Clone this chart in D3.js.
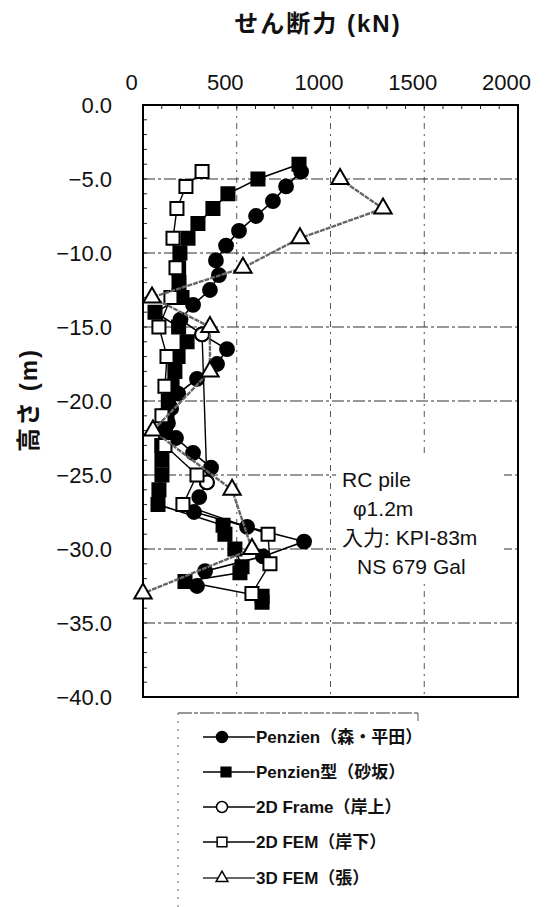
<!DOCTYPE html>
<html>
<head>
<meta charset="utf-8">
<script src="https://cdn.jsdelivr.net/npm/d3@7"></script>
<style>
  body { margin: 0; background: #fff; }
  svg { display: block; }
  text { font-family: "Liberation Sans", "Noto Sans CJK JP", sans-serif; fill: #111; }
</style>
</head>
<body>
<svg id="chart"></svg>
<script>
// せん断力 vs 深さ
let xTicks = [0, 500, 1000, 1500, 2000];
let yTicks = [0, -5, -10, -15, -20, -25, -30, -35, -40];

let seriesNames = ["Penzien（森・平田）", "Penzien型（砂坂）", "2D Frame（岸上）", "2D FEM（岸下）", "3D FEM（張）"];

let morihiraDepth = [-4.5, -5.5, -6.5, -7.5, -8.5, -9.5, -10.5, -11.5, -12.5, -13.5, -14.5, -15.5, -16.5, -17.5, -18.5, -19.5, -20.5, -21.5, -22.5, -23.5, -24.5, -25.5, -26.5, -27.5, -28.5, -29.5, -30.5, -31.5, -32.5];
let morihiraShear = [843, 763, 693, 603, 512, 443, 389, 405, 357, 267, 200, 315, 448, 395, 288, 187, 150, 133, 176, 267, 363, 341, 300, 272, 555, 859, 640, 331, 288];

let sakaDepth = [-4, -5, -6, -7, -8, -9, -10, -11, -12, -13, -14, -15, -16, -17, -18, -19, -20, -21, -22, -23, -24, -25, -26, -27, -28.4, -29, -30, -31.2, -31.6, -32.2, -33.2, -33.6];
let sakaShear = [832, 613, 453, 373, 293, 240, 197, 190, 192, 208, 64, 190, 235, 187, 170, 155, 135, 128, 120, 100, 101, 101, 85, 80, 427, 437, 490, 528, 517, 224, 635, 635];

let frameDepth = [-15.5, -25.5];
let frameShear = [315, 341];

let fem2Depth = [-4.5, -5.5, -7, -9, -11, -13, -15, -17, -19, -21, -23, -25, -27, -29, -31, -33];
let fem2Shear = [315, 229, 181, 160, 176, 149, 85, 128, 117, 101, 117, 288, 213, 667, 677, 581];

let fem3Depth = [-5, -7, -9, -11, -13, -15, -18, -22, -26, -30, -33];
let fem3Shear = [1051, 1280, 837, 533, 48, 357, 357, 53, 475, 581, 0];

let noteLines = ["RC pile", "\u03c61.2m", "入力: KPI-83m", "NS 679 Gal"];

function zip(depths, vals) {
    return depths.map((d, i) => ({ depth: d, shear: vals[i] }));
}

function makeChart() {
    let w = 547;
    let h = 907;

    let svg = d3.select("#chart")
        .attr("width", w)
        .attr("height", h);

    let x = d3.scaleLinear().domain([0, 2000]).range([143, 518]);
    let y = d3.scaleLinear().domain([0, -40]).range([105, 697]);

    // grid
    let grid = svg.append("g");
    grid.selectAll("line.gx")
        .data(xTicks.slice(1, -1))
        .enter()
        .append("line")
            .attr("x1", d => x(d)).attr("x2", d => x(d))
            .attr("y1", y(0)).attr("y2", y(-40))
            .style("stroke", "#555")
            .style("stroke-width", 1)
            .style("stroke-dasharray", "6,5,2,5");
    grid.selectAll("line.gy")
        .data(yTicks.slice(1, -1))
        .enter()
        .append("line")
            .attr("x1", x(0)).attr("x2", x(2000))
            .attr("y1", d => y(d)).attr("y2", d => y(d))
            .style("stroke", "#333")
            .style("stroke-width", 1.2)
            .style("stroke-dasharray", "12,3,3,3");

    // minor ticks inside
    grid.selectAll("line.mx")
        .data(d3.range(100, 2000, 100))
        .enter()
        .append("line")
            .attr("x1", d => x(d)).attr("x2", d => x(d))
            .attr("y1", y(0)).attr("y2", y(0) + 4)
            .style("stroke", "#222");
    grid.selectAll("line.my")
        .data(d3.range(-1, -40, -1))
        .enter()
        .append("line")
            .attr("x1", x(0)).attr("x2", x(0) + 4)
            .attr("y1", d => y(d)).attr("y2", d => y(d))
            .style("stroke", "#222");

    // note box
    svg.append("rect")
        .attr("x", 336).attr("y", 458)
        .attr("width", 168).attr("height", 122)
        .style("fill", "#fff");
    svg.append("g")
        .selectAll("text")
        .data(noteLines)
        .enter()
        .append("text")
            .attr("x", (d, i) => [342, 353, 342, 357][i])
            .attr("y", (d, i) => 487 + i * 29)
            .style("font-size", "21px")
            .text(d => d);

    // frame
    svg.append("rect")
        .attr("x", x(0)).attr("y", y(0))
        .attr("width", x(2000) - x(0)).attr("height", y(-40) - y(0))
        .style("fill", "none")
        .style("stroke", "#000")
        .style("stroke-width", 2);

    // axes
    let xAxis = svg.append("g")
        .attr("transform", "translate(0," + 70 + ")")
        .call(d3.axisTop(x).tickValues(xTicks).tickSize(0).tickPadding(0).tickFormat(d3.format("d")));
    xAxis.select(".domain").remove();
    xAxis.selectAll("text")
        .attr("dx", -12)
        .style("font-size", "22px")
        .attr("y", 20);

    let yAxis = svg.append("g")
        .attr("transform", "translate(112,0)")
        .call(d3.axisLeft(y).tickValues(yTicks).tickSize(0).tickPadding(0).tickFormat(d3.format(".1f")));
    yAxis.select(".domain").remove();
    yAxis.selectAll("text")
        .style("font-size", "22px")
        .attr("dy", "0.32em");

    svg.append("text")
        .attr("x", 318).attr("y", 32)
        .attr("text-anchor", "middle")
        .style("font-size", "24px")
        .style("font-weight", "bold")
        .style("letter-spacing", "2px")
        .text("せん断力 (kN)");

    svg.append("text")
        .attr("transform", "translate(37,400) rotate(-90)")
        .attr("text-anchor", "middle")
        .style("font-size", "24px")
        .style("font-weight", "bold")
        .style("letter-spacing", "2px")
        .text("高さ (m)");

    let line = d3.line().x(d => x(d.shear)).y(d => y(d.depth));

    let series = [
        { data: zip(morihiraDepth, morihiraShear), shape: "circle", fill: "#000", stroke: "#000", dash: null, width: 1.6 },
        { data: zip(sakaDepth, sakaShear), shape: "square", fill: "#000", stroke: "#000", dash: null, width: 1.6 },
        { data: zip(frameDepth, frameShear), shape: "circle", fill: "#fff", stroke: "#000", dash: null, width: 1.4 },
        { data: zip(fem2Depth, fem2Shear), shape: "square", fill: "#fff", stroke: "#000", dash: null, width: 1.4 },
        { data: zip(fem3Depth, fem3Shear), shape: "triangle", fill: "#fff", stroke: "#666", dash: "5,1", width: 2.4 }
    ];

    let symbols = { circle: d3.symbolCircle, square: d3.symbolSquare, triangle: d3.symbolTriangle };
    let sizes = { circle: 150, square: 170, triangle: 130 };

    series.forEach(s => {
        let g = svg.append("g");
        g.append("path")
            .datum(s.data)
            .attr("d", line)
            .style("fill", "none")
            .style("stroke", s.stroke)
            .style("stroke-width", s.width)
            .style("stroke-dasharray", s.dash);
        g.selectAll("path.m")
            .data(s.data)
            .enter()
            .append("path")
                .attr("transform", d => "translate(" + x(d.shear) + "," + y(d.depth) + ")")
                .attr("d", d3.symbol().type(symbols[s.shape]).size(sizes[s.shape]))
                .style("fill", s.fill)
                .style("stroke", "#000")
                .style("stroke-width", 2);
    });

    // legend
    let leg = svg.append("g");
    leg.append("line")
        .attr("x1", 178).attr("x2", 418).attr("y1", 713).attr("y2", 713)
        .style("stroke", "#333").style("stroke-dasharray", "14,2,4,2");
    leg.append("line")
        .attr("x1", 178).attr("x2", 178).attr("y1", 713).attr("y2", 907)
        .style("stroke", "#666").style("stroke-dasharray", "2,6");
    leg.append("line")
        .attr("x1", 418).attr("x2", 418).attr("y1", 713).attr("y2", 721)
        .style("stroke", "#555");

    let items = leg.selectAll("g.item")
        .data(series)
        .enter()
        .append("g")
            .attr("transform", (d, i) => "translate(0," + [737, 772, 807, 842, 878][i] + ")");
    items.append("line")
        .attr("x1", 203).attr("x2", 255)
        .style("stroke", d => d.stroke)
        .style("stroke-width", d => d.shape === "triangle" ? 2 : 1.4);
    items.append("path")
        .attr("transform", (d, i) => "translate(" + (i === 1 ? 226 : 222) + ",0)")
        .attr("d", d => d3.symbol().type(symbols[d.shape]).size(d.shape === "triangle" ? 60 : 95)())
        .style("fill", d => d.fill)
        .style("stroke", "#000")
        .style("stroke-width", 1.5);
    items.append("text")
        .attr("x", 256)
        .attr("dy", "0.36em")
        .style("font-size", "17px")
        .style("font-weight", "bold")
        .text((d, i) => seriesNames[i]);
}

window.onload = function() {
    makeChart();
}
</script>
</body>
</html>
